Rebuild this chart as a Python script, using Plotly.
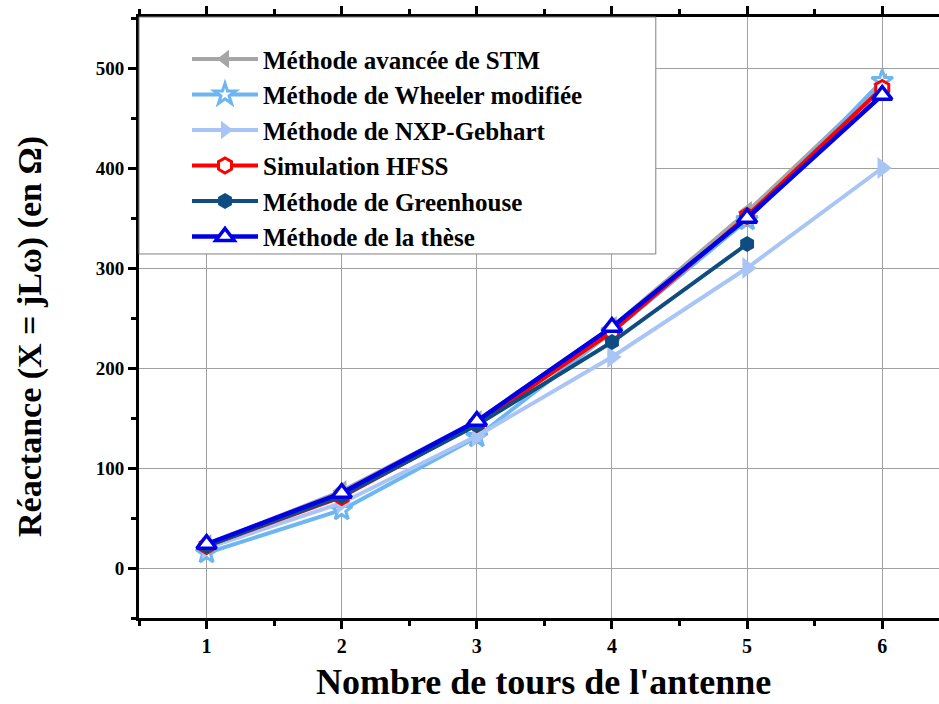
import plotly.graph_objects as go

# Number of turns of the antenna
tours = [1, 2, 3, 4, 5, 6]

# Reactance X = jLω (Ω) for each method
stm_avance = [23, 77, 147, 241, 356, 484]
wheeler_mod = [15, 58, 131, 236, 348, 487]
nxp_gebhart = [20, 65, 132, 211, 300, 400]
hfss = [22, 71, 144, 236, 352, 480]
greenhouse_x = [1, 2, 3, 4, 5]
greenhouse = [22, 72, 143, 226, 324]
these = [24, 75, 147, 241, 350, 473]

x_ticks = [1, 2, 3, 4, 5, 6]
y_ticks = [0, 100, 200, 300, 400, 500]

FONT = "Liberation Serif"

fig = go.Figure()

series = [
    dict(name="Méthode avancée de STM", x=tours, y=stm_avance, color="#A6A6A6",
         symbol="triangle-left", fill="#A6A6A6", size=19, lw=0, width=4),
    dict(name="Méthode de Wheeler modifiée", x=tours, y=wheeler_mod, color="#6DB6F2",
         symbol="star", fill="#FFFFFF", size=16, lw=3, width=4),
    dict(name="Méthode de NXP-Gebhart", x=tours, y=nxp_gebhart, color="#A9C5F5",
         symbol="triangle-right", fill="#A9C5F5", size=19, lw=0, width=4),
    dict(name="Simulation HFSS", x=tours, y=hfss, color="#FF0000",
         symbol="hexagon", fill="#FFFFFF", size=15, lw=3, width=4),
    dict(name="Méthode de Greenhouse", x=greenhouse_x, y=greenhouse, color="#0E4C82",
         symbol="hexagon", fill="#0E4C82", size=16, lw=0, width=4),
    dict(name="Méthode de la thèse", x=tours, y=these, color="#0000E6",
         symbol="triangle-up", fill="#FFFFFF", size=17, lw=3.5, width=4.5),
]

for s in series:
    fig.add_trace(go.Scatter(
        x=s["x"], y=s["y"], name=s["name"], mode="lines+markers",
        line=dict(color=s["color"], width=s["width"]),
        marker=dict(symbol=s["symbol"], size=s["size"], color=s["fill"],
                    line=dict(color=s["color"], width=s["lw"])),
    ))

# White legend panel with a thin grey frame in the upper-left corner
fig.add_shape(type="rect", xref="paper", yref="paper",
              x0=0, x1=0.646, y0=0.6057, y1=1,
              fillcolor="white", line=dict(color="#7F7F7F", width=1), layer="above")

fig.update_layout(
    width=939, height=704,
    margin=dict(l=139, r=0, t=17, b=86),
    paper_bgcolor="white", plot_bgcolor="white",
    showlegend=True,
    legend=dict(x=0.06, y=0.968, xanchor="left", yanchor="top",
                bgcolor="rgba(0,0,0,0)", borderwidth=0,
                font=dict(family=FONT, size=25, color="black", weight="bold"),
                itemwidth=66, tracegroupgap=0),
    font=dict(family=FONT, color="black"),
)

fig.update_xaxes(
    range=[0.5, 6.42], tickvals=x_ticks,
    showline=True, linecolor="black", linewidth=3, mirror="ticks",
    ticks="outside", ticklen=8, tickwidth=3, tickcolor="black",
    minor=dict(dtick=0.5, tick0=0.5, ticks="outside", ticklen=5, tickwidth=3, tickcolor="black", showgrid=False),
    showgrid=True, gridcolor="#A0A0A0", gridwidth=1, zeroline=False,
    tickfont=dict(family=FONT, size=20, color="black", weight="bold"),
)
fig.update_yaxes(
    range=[-50, 551], tickvals=y_ticks,
    showline=True, linecolor="black", linewidth=3, mirror=False,
    ticks="outside", ticklen=8, tickwidth=3, tickcolor="black",
    minor=dict(dtick=50, tick0=0, ticks="outside", ticklen=5, tickwidth=3, tickcolor="black", showgrid=False),
    showgrid=True, gridcolor="#A0A0A0", gridwidth=1, zeroline=False,
    tickfont=dict(family=FONT, size=19, color="black", weight="bold"),
)

fig.add_annotation(text="Nombre de tours de l'antenne", xref="paper", yref="paper",
                   x=0.506, y=-0.107, xanchor="center", yanchor="middle", showarrow=False,
                   font=dict(family=FONT, size=36, color="black", weight="bold"))
fig.add_annotation(text="Réactance (X = jLω) (en Ω)", xref="paper", yref="paper",
                   x=-0.136, y=0.468, xanchor="center", yanchor="middle", showarrow=False,
                   textangle=-90,
                   font=dict(family=FONT, size=34, color="black", weight="bold"))

fig.write_html("out.html")
